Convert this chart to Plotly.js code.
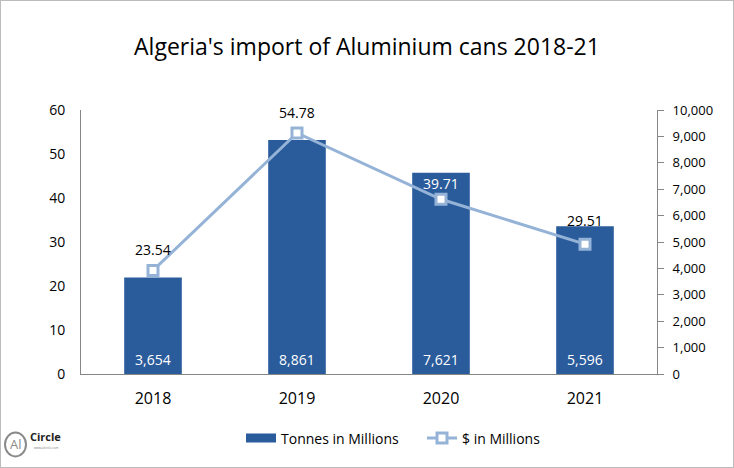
<!DOCTYPE html>
<html>
<head>
<meta charset="utf-8">
<script src="https://cdn.plot.ly/plotly-3.0.1.min.js"></script>
<style>
  html, body { margin: 0; padding: 0; background: #fff; }
  #chart { width: 732px; height: 466px; border: 1px solid #bcbcbc; }
</style>
</head>
<body>
<div id="chart"></div>
<script>
const years = [2018, 2019, 2020, 2021];
const yearLabels = ['2018', '2019', '2020', '2021'];
const tonnes = [3654, 8861, 7621, 5596];
const dollars = [23.54, 54.78, 39.71, 29.51];
const tonnesLabels = ['3,654', '8,861', '7,621', '5,596'];
const dollarLabels = ['23.54', '54.78', '39.71', '29.51'];

// label styling (kept apart from the data)
const dollarLabelColors = ['#000000', '#000000', '#ffffff', '#000000'];
const dollarLabelShift = [21, 20, 16, 24];

const FONT = 'Open Sans, Noto Sans, sans-serif';
const barColor = '#2a5b9b';
const lineColor = '#95b3d7';

const traces = [
  {
    type: 'bar',
    name: 'Tonnes in Millions',
    x: years,
    y: tonnes,
    yaxis: 'y',
    width: 0.4,
    marker: { color: barColor },
    showlegend: false,
    hoverinfo: 'skip'
  },
  {
    // legend entry only (wide swatch like the reference)
    type: 'scatter',
    mode: 'lines',
    name: 'Tonnes in Millions',
    x: [null],
    y: [null],
    yaxis: 'y',
    line: { color: barColor, width: 9 },
    hoverinfo: 'skip'
  },
  {
    type: 'scatter',
    mode: 'lines+markers',
    name: '$ in Millions',
    x: years,
    y: dollars,
    yaxis: 'y2',
    line: { color: lineColor, width: 3 },
    marker: { symbol: 'square', size: 10, color: '#ffffff', line: { color: lineColor, width: 3 } },
    hoverinfo: 'skip'
  }
];

const annotations = [];
years.forEach((yr, i) => {
  annotations.push({
    x: yr, y: dollars[i], xref: 'x', yref: 'y2',
    text: dollarLabels[i], showarrow: false, yshift: dollarLabelShift[i],
    font: { family: FONT, size: 14, color: dollarLabelColors[i] }
  });
  annotations.push({
    x: yr, y: 0, xref: 'x', yref: 'y',
    text: tonnesLabels[i], showarrow: false, yshift: 15,
    font: { family: FONT, size: 14, color: '#ffffff' }
  });
});

// logo (text kept as real text)
annotations.push({
  xref: 'paper', yref: 'paper', x: (15.5 - 81) / 576, y: (376 - 447) / 266,
  text: 'Al', showarrow: false, xanchor: 'center', yanchor: 'middle',
  font: { family: FONT, size: 13, color: '#8a8a8a' }
});
annotations.push({
  xref: 'paper', yref: 'paper', x: (28 - 81) / 576, y: (376 - 439) / 266,
  text: '<b>Circle</b>', showarrow: false, xanchor: 'left', yanchor: 'middle',
  font: { family: FONT, size: 11, color: '#222222' }
});
annotations.push({
  xref: 'paper', yref: 'paper', x: (32 - 81) / 576, y: (376 - 451) / 266,
  text: 'www.alcircle.com', showarrow: false, xanchor: 'left', yanchor: 'middle',
  font: { family: FONT, size: 3, color: '#777777' }
});

const layout = {
  width: 732,
  height: 466,
  margin: { l: 80, r: 76, t: 109, b: 91 },
  paper_bgcolor: '#ffffff',
  plot_bgcolor: '#ffffff',
  font: { family: FONT, size: 13, color: '#000000' },
  title: {
    text: "Algeria's import of Aluminium cans 2018-21",
    font: { family: FONT, size: 23, color: '#000000' },
    x: 0.5, xanchor: 'center', xref: 'container',
    y: 1 - 46 / 466, yanchor: 'middle', yref: 'container'
  },
  xaxis: {
    type: 'linear',
    range: [2017.5, 2021.5],
    tickmode: 'array',
    tickvals: years,
    ticktext: yearLabels,
    showgrid: false,
    showline: true,
    linecolor: '#868686',
    linewidth: 1,
    ticks: '',
    ticklabelstandoff: 10,
    tickfont: { family: FONT, size: 16, color: '#000000' },
    zeroline: false,
    fixedrange: true
  },
  yaxis: {
    range: [0, 10000],
    dtick: 1000,
    tickformat: ',d',
    side: 'right',
    showgrid: false,
    showline: true,
    linecolor: '#868686',
    linewidth: 1,
    ticks: 'outside',
    ticklen: 6,
    tickcolor: '#868686',
    ticklabelstandoff: 6,
    tickfont: { family: FONT, size: 13, color: '#000000' },
    zeroline: false,
    fixedrange: true
  },
  yaxis2: {
    range: [0, 60],
    dtick: 10,
    overlaying: 'y',
    side: 'left',
    showgrid: false,
    showline: true,
    linecolor: '#868686',
    linewidth: 1,
    ticks: '',
    ticklabelstandoff: 12,
    tickfont: { family: FONT, size: 14, color: '#000000' },
    zeroline: false,
    fixedrange: true
  },
  legend: {
    orientation: 'h',
    x: (240 - 80) / 576,
    xanchor: 'left',
    y: (375 - 440) / 266,
    yanchor: 'middle',
    entrywidth: 136,
    font: { family: FONT, size: 14, color: '#000000' },
    traceorder: 'normal',
    bgcolor: 'rgba(0,0,0,0)'
  },
  shapes: [
    {
      type: 'circle', xref: 'paper', yref: 'paper',
      x0: (5 - 81) / 576, x1: (26 - 81) / 576,
      y0: (376 - 459) / 266, y1: (376 - 435) / 266,
      line: { color: '#8a8a8a', width: 2 }
    }
  ],
  annotations: annotations,
  showlegend: true
};

Plotly.newPlot('chart', traces, layout, { displayModeBar: false, staticPlot: true });
</script>
</body>
</html>
